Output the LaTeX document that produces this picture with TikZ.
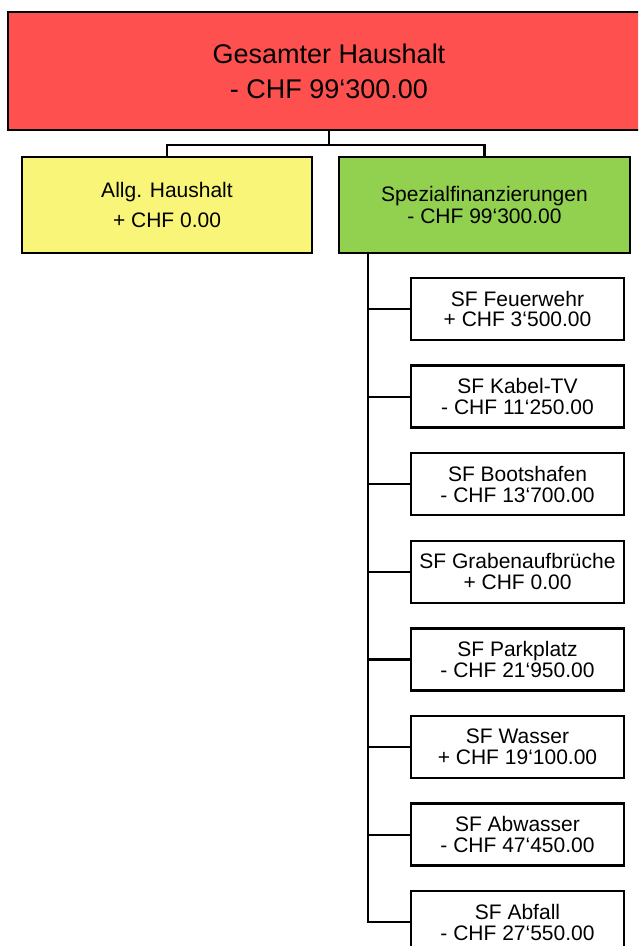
\documentclass[tikz,border=0pt]{standalone}
\usepackage{fontspec}
\setmainfont{Liberation Sans}
\definecolor{topred}{RGB}{255,80,80}
\definecolor{allgyellow}{RGB}{248,245,120}
\definecolor{sfgreen}{RGB}{146,208,80}
\begin{document}
\begin{tikzpicture}[x=1pt,y=-1pt,
  box/.style={draw=black, line width=2.5pt, rectangle, align=center, inner sep=0pt},
  topbox/.style={box, fill=topred, minimum width=642pt, minimum height=118pt, font=\fontsize{27}{35}\selectfont},
  yellowbox/.style={box, fill=allgyellow, minimum width=290pt, minimum height=96pt, font=\fontsize{21}{29.4}\selectfont},
  greenbox/.style={box, fill=sfgreen, minimum width=291pt, minimum height=96pt, font=\fontsize{21}{22}\selectfont},
  childbox/.style={box, fill=white, minimum width=213pt, minimum height=62pt, font=\fontsize{21}{20.7}\selectfont},
  conn/.style={draw=black, line width=2.2pt}]
\useasboundingbox (0,0) rectangle (638,946);
\clip (0,0) rectangle (638,946);
\fill[white] (0,0) rectangle (638,946);

\node[topbox] (top) at (329,71) {Gesamter Haushalt\\- CHF 99‘300.00};
\node[yellowbox] (allg) at (167,205) {Allg. Haushalt\\+ CHF 0.00};
\node[greenbox] (spez) at (484.5,205) {Spezialfinanzierungen\\- CHF 99‘300.00};

\node[childbox] (c1) at (517.5,309.0) {SF Feuerwehr\\+ CHF 3‘500.00};
\node[childbox] (c2) at (517.5,396.6) {SF Kabel-TV\\- CHF 11‘250.00};
\node[childbox] (c3) at (517.5,484.2) {SF Bootshafen\\- CHF 13‘700.00};
\node[childbox] (c4) at (517.5,571.8) {SF Grabenaufbrüche\\+ CHF 0.00};
\node[childbox] (c5) at (517.5,659.4) {SF Parkplatz\\- CHF 21‘950.00};
\node[childbox] (c6) at (517.5,747.0) {SF Wasser\\+ CHF 19‘100.00};
\node[childbox] (c7) at (517.5,834.6) {SF Abwasser\\- CHF 47‘450.00};
\node[childbox] (c8) at (517.5,922.2) {SF Abfall\\- CHF 27‘550.00};

\coordinate (j) at (329,145);
\draw[conn] (top.south) -- (j);
\draw[conn] (allg.north) |- (j) -| (spez.north);

\coordinate (spine) at (368,253);
\foreach \i in {1,...,8}{
  \draw[conn] (spine) |- (c\i.west);
}
\end{tikzpicture}
\end{document}
